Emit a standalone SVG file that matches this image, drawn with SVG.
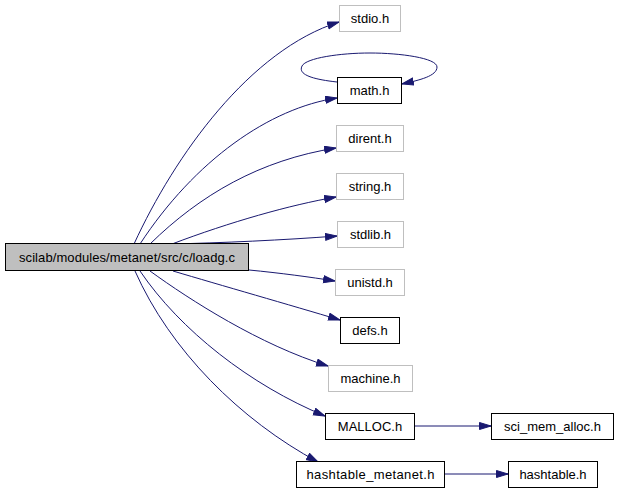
<svg xmlns="http://www.w3.org/2000/svg" width="618" height="490" viewBox="0 0 618 490">
<style>
.n rect{fill:#ffffff;stroke:#000000;stroke-width:1}
.g rect{stroke:#bfbfbf}
.r rect{fill:#bfbfbf}
text{font-family:"Liberation Sans",Arial,sans-serif;font-size:13px;fill:#000000;text-anchor:middle}
#edges path{fill:none;stroke:#191970;stroke-width:1;marker-end:url(#ah)}
</style>
<defs>
<marker id="ah" markerUnits="userSpaceOnUse" markerWidth="13" markerHeight="10" refX="12" refY="4" orient="auto">
<path d="M0.5,0.5 L12,4 L0.5,7.5 z" fill="#191970" stroke="#191970" stroke-width="1"/>
</marker>
</defs>
<rect width="618" height="490" fill="#ffffff"/>
<g id="edges">
<path d="M134,244 C175,155 250,50 339,22"/>
<path d="M337,82 C310,79 298,74 302,66 C306,58 340,53 370,53 C400,53 437,58 437,67 C437,76 420,80 402,84"/>
<path d="M140,244 C195,160 270,108 337,98"/>
<path d="M150,244 C200,195 260,160 336,148"/>
<path d="M172,244 C230,222 290,205 336,197"/>
<path d="M170,244 C220,243 285,240 337,236"/>
<path d="M249,270 C280,273 310,277 335,281"/>
<path d="M173,271 C220,285 290,305 340,320"/>
<path d="M150,271 C190,300 260,345 328,366"/>
<path d="M140,271 C180,330 250,385 325,416"/>
<path d="M135,271 C170,350 240,420 318,462"/>
<path d="M414,426 L491,426"/>
<path d="M444,474 L508,474"/>
</g>
<g id="root" class="n r"><rect x="5.5" y="243.5" width="243" height="27"/><text x="127" y="262" textLength="216" lengthAdjust="spacing">scilab/modules/metanet/src/c/loadg.c</text></g>
<g id="stdio" class="n g"><rect x="339.5" y="5.5" width="61" height="26"/><text x="370" y="23">stdio.h</text></g>
<g id="math" class="n"><rect x="337.5" y="77.5" width="64" height="26"/><text x="369.5" y="95">math.h</text></g>
<g id="dirent" class="n g"><rect x="336.5" y="125.5" width="67" height="26"/><text x="370" y="143">dirent.h</text></g>
<g id="string" class="n g"><rect x="336.5" y="173.5" width="67" height="26"/><text x="370" y="191">string.h</text></g>
<g id="stdlib" class="n g"><rect x="337.5" y="221.5" width="66" height="26"/><text x="370.5" y="239">stdlib.h</text></g>
<g id="unistd" class="n g"><rect x="335.5" y="269.5" width="69" height="26"/><text x="370" y="287">unistd.h</text></g>
<g id="defs" class="n"><rect x="340.5" y="317.5" width="59" height="26"/><text x="370" y="335">defs.h</text></g>
<g id="machine" class="n g"><rect x="328.5" y="365.5" width="84" height="26"/><text x="370.5" y="383">machine.h</text></g>
<g id="malloc" class="n"><rect x="325.5" y="413.5" width="89" height="26"/><text x="370" y="431">MALLOC.h</text></g>
<g id="hashtable_metanet" class="n"><rect x="296.5" y="461.5" width="148" height="26"/><text x="370.5" y="479" textLength="128" lengthAdjust="spacing">hashtable_metanet.h</text></g>
<g id="sci_mem_alloc" class="n"><rect x="491.5" y="413.5" width="122" height="26"/><text x="552.5" y="431">sci_mem_alloc.h</text></g>
<g id="hashtable" class="n"><rect x="508.5" y="461.5" width="89" height="26"/><text x="553" y="479">hashtable.h</text></g>
</svg>
